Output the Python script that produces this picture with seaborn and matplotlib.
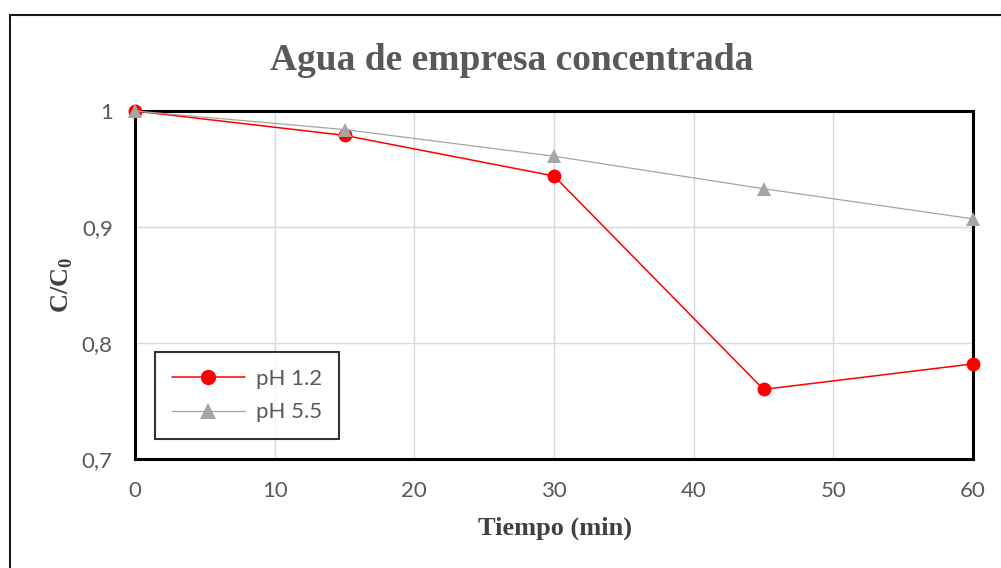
import matplotlib
matplotlib.use("Agg")
import matplotlib.pyplot as plt
import matplotlib.ticker as mticker
from matplotlib.patches import Rectangle
from matplotlib.lines import Line2D
import pandas as pd
import seaborn as sns

# data
tiempo = [0, 15, 30, 45, 60]
ph_12 = [1.0, 0.979, 0.944, 0.760, 0.782]
ph_55 = [1.0, 0.984, 0.961, 0.933, 0.907]
series_names = ["pH 1.2", "pH 5.5"]

df = pd.DataFrame({
    "Tiempo": tiempo * 2,
    "C": ph_12 + ph_55,
    "serie": [series_names[0]] * len(tiempo) + [series_names[1]] * len(tiempo),
})

sns.set_style("white")
plt.rcParams["font.family"] = ["Lato", "DejaVu Sans"]
plt.rcParams["mathtext.fontset"] = "custom"
plt.rcParams["mathtext.bf"] = "Liberation Serif:bold"
plt.rcParams["mathtext.rm"] = "Liberation Serif"

W, H = 1001, 568
fig = plt.figure(figsize=(W / 100, H / 100), dpi=100)
ax = fig.add_axes([135 / W, 1 - 459 / H, (973 - 135) / W, (459 - 111) / H])

palette = {"pH 1.2": "#ff0000", "pH 5.5": "#a5a5a5"}
sns.lineplot(
    data=df, x="Tiempo", y="C", hue="serie", style="serie",
    markers={"pH 1.2": "o", "pH 5.5": "^"}, dashes=False,
    palette=palette, ax=ax, markersize=10, markeredgewidth=0,
    legend=False, zorder=3,
)
for line, lw in zip(ax.lines, [1.1, 0.9]):
    line.set_linewidth(lw)
    line.set_clip_on(False)

ax.set_xlim(0, 60)
ax.set_ylim(0.7, 1.0)
ax.xaxis.set_major_locator(mticker.MultipleLocator(10))
ax.yaxis.set_major_locator(mticker.MultipleLocator(0.1))
ax.yaxis.set_major_formatter(mticker.FuncFormatter(
    lambda v, p: f"{v:.1f}".replace(".", ",") if v < 0.999 else "1"))
ax.grid(True, color="#d9d9d9", linewidth=1)
ax.tick_params(axis="both", length=0, labelsize=16, labelcolor="#595959", pad=16)
for s in ax.spines.values():
    s.set_color("black")
    s.set_linewidth(2.2)
ax.set_xlabel("")
ax.set_ylabel("")

# legend
handles = [
    Line2D([], [], color="#ff0000", marker="o", markersize=11, markeredgewidth=0, lw=1.1),
    Line2D([], [], color="#a5a5a5", marker="^", markersize=11, markeredgewidth=0, lw=0.9),
]
leg = ax.legend(
    handles, series_names, loc="lower left", bbox_to_anchor=(20 / 838, 20 / 348),
    frameon=True, fancybox=False, edgecolor="black", fontsize=16, labelcolor="#595959",
    handlelength=3.3, handletextpad=0.5, borderpad=0.75, labelspacing=0.6, borderaxespad=0,
)
leg.get_frame().set_linewidth(1.5)

serif = ["Liberation Serif", "DejaVu Serif"]
fig.text(512 / W, 1 - 60 / H, "Agua de empresa concentrada", ha="center", va="center",
         fontsize=27, fontweight="bold", color="#595959", family=serif)
fig.text(555 / W, 1 - 528 / H, "Tiempo (min)", ha="center", va="center",
         fontsize=19, fontweight="bold", color="#404040", family=serif)
fig.text(62 / W, 1 - 285 / H, r"C/C$_\mathbf{0}$", ha="center", va="center", rotation=90,
         fontsize=19, fontweight="bold", color="#404040", family=serif)

# outer chart border (cropped on right and bottom in the reference)
fig.patches.append(Rectangle((10 / W, -0.1), 1.2, 1 - 15 / H + 0.1, transform=fig.transFigure,
                             fill=False, edgecolor="#1a1a1a", linewidth=1.5))

fig.savefig("out.png", dpi=100)
